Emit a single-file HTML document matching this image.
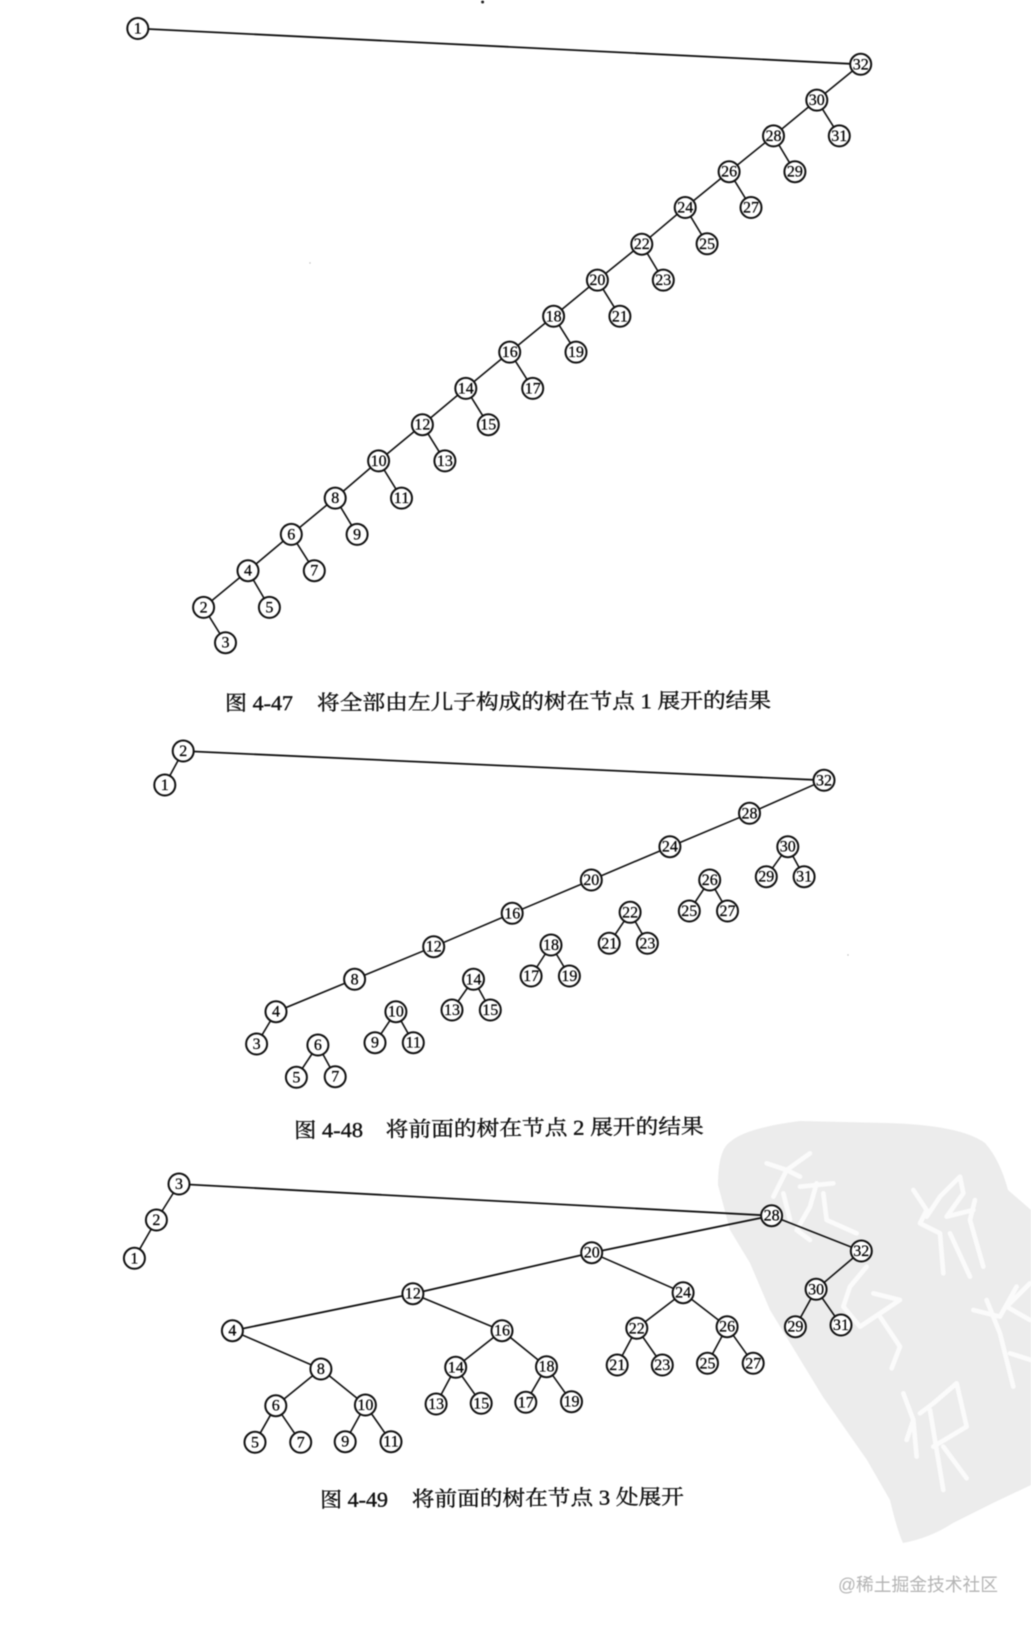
<!DOCTYPE html>
<html lang="zh"><head><meta charset="utf-8"><title>图 4-47 4-48 4-49</title>
<style>
html,body{margin:0;padding:0;background:#fff;width:1031px;height:1627px;overflow:hidden}
svg{display:block;filter:blur(.5px)}
.e{fill:none;stroke:#111;stroke-width:1.6}
.t{fill:none;stroke:#111;stroke-width:1.8}
.n circle{fill:#fff;stroke:#111;stroke-width:2}
.n text{font:16px "Liberation Serif",serif;text-anchor:middle;fill:#000;stroke:#000;stroke-width:.25}
.c text{font:21px "Liberation Serif","Noto Serif CJK SC",serif;fill:#111;stroke:#111;stroke-width:.4}
.w{fill:none;stroke:#fbfbfb;stroke-width:14;stroke-linecap:round;stroke-linejoin:round}
</style></head><body>
<svg xmlns="http://www.w3.org/2000/svg" width="1031" height="1627" viewBox="0 0 1031 1627">
<rect width="1031" height="1627" fill="#fff"/>
<circle cx="482.6" cy="2" r="1.5" fill="#222"/>
<circle cx="310" cy="263" r=".7" fill="#bbb"/>
<circle cx="848" cy="955" r=".7" fill="#bbb"/>
<path fill="#ececec" d="M718 1185Q718 1150 730 1142Q745 1128 800 1121L887 1123Q960 1125 985 1143Q1000 1160 1008 1190L1031 1210L1031 1485L993 1503L953 1523Q930 1538 903 1543Q897 1530 890 1500L867 1460L823 1397L770 1310L750 1263L730 1230Z"/>
<g class="w" transform="translate(700 1120) scale(.3333)">
<path d="M200 130L260 150 300 170M330 100L260 150 220 230M300 200L400 190M350 190L330 260 290 330 330 360M370 220L380 300 470 340M250 220L270 300"/>
<path d="M640 210L680 270 660 310 720 340 730 460M780 170L720 230 680 290M780 170L790 220 740 290 820 270M825 240L810 300 850 440M750 340L810 470"/>
<path d="M500 440L450 500 430 560 480 620M520 520L600 540 480 620M540 590L600 680 575 745"/>
<path d="M820 570L900 590 950 500M860 540L900 640M990 490L920 560 990 600M900 640L940 800M930 700L993 720"/>
<path d="M610 820L640 900 620 960M640 900L650 1010M770 790L700 850 660 880M770 790L800 920 700 980M690 870L730 1110M730 980L800 1075"/>
</g>

<path class="t" d="M137.8 28.5L860.7 64.3"/>
<path class="e" d="M860.7 64.3L816.8 100.1 773.5 135.9 729.1 171.7 685.2 207.5 641.8 244.2 597.4 280.1 553.6 316.3 509.7 352.1 465.8 388.4 422.4 424.7 378.6 460.9 335.2 498.1 291.3 534.4 248 570.7 203.6 607.4 225.5 642.7M816.8 100.1L839.3 135.9M773.5 135.9L794.9 171.7M729.1 171.7L751 207.5M685.2 207.5L707.1 243.8M641.8 244.2L663.3 280.1M597.4 280.1L619.9 316.3M553.6 316.3L576 352.1M509.7 352.1L532.7 388.4M465.8 388.4L488.3 424.7M422.4 424.7L444.9 460.9M378.6 460.9L401.5 498.1M335.2 498.1L357.1 534.4M291.3 534.4L314.3 570.7M248 570.7L269.4 607.4"/>
<g class="n">
<circle cx="137.8" cy="28.5" r="10.5"/><text x="137.8" y="33.5">1</text>
<circle cx="860.7" cy="64.3" r="10.5"/><text x="860.7" y="69.3">32</text>
<circle cx="816.8" cy="100.1" r="10.5"/><text x="816.8" y="105.1">30</text>
<circle cx="773.5" cy="135.9" r="10.5"/><text x="773.5" y="140.9">28</text>
<circle cx="729.1" cy="171.7" r="10.5"/><text x="729.1" y="176.7">26</text>
<circle cx="685.2" cy="207.5" r="10.5"/><text x="685.2" y="212.5">24</text>
<circle cx="641.8" cy="244.2" r="10.5"/><text x="641.8" y="249.2">22</text>
<circle cx="597.4" cy="280.1" r="10.5"/><text x="597.4" y="285.1">20</text>
<circle cx="553.6" cy="316.3" r="10.5"/><text x="553.6" y="321.3">18</text>
<circle cx="509.7" cy="352.1" r="10.5"/><text x="509.7" y="357.1">16</text>
<circle cx="465.8" cy="388.4" r="10.5"/><text x="465.8" y="393.4">14</text>
<circle cx="422.4" cy="424.7" r="10.5"/><text x="422.4" y="429.7">12</text>
<circle cx="378.6" cy="460.9" r="10.5"/><text x="378.6" y="465.9">10</text>
<circle cx="335.2" cy="498.1" r="10.5"/><text x="335.2" y="503.1">8</text>
<circle cx="291.3" cy="534.4" r="10.5"/><text x="291.3" y="539.4">6</text>
<circle cx="248" cy="570.7" r="10.5"/><text x="248" y="575.7">4</text>
<circle cx="203.6" cy="607.4" r="10.5"/><text x="203.6" y="612.4">2</text>
<circle cx="225.5" cy="642.7" r="10.5"/><text x="225.5" y="647.7">3</text>
<circle cx="839.3" cy="135.9" r="10.5"/><text x="839.3" y="140.9">31</text>
<circle cx="794.9" cy="171.7" r="10.5"/><text x="794.9" y="176.7">29</text>
<circle cx="751" cy="207.5" r="10.5"/><text x="751" y="212.5">27</text>
<circle cx="707.1" cy="243.8" r="10.5"/><text x="707.1" y="248.8">25</text>
<circle cx="663.3" cy="280.1" r="10.5"/><text x="663.3" y="285.1">23</text>
<circle cx="619.9" cy="316.3" r="10.5"/><text x="619.9" y="321.3">21</text>
<circle cx="576" cy="352.1" r="10.5"/><text x="576" y="357.1">19</text>
<circle cx="532.7" cy="388.4" r="10.5"/><text x="532.7" y="393.4">17</text>
<circle cx="488.3" cy="424.7" r="10.5"/><text x="488.3" y="429.7">15</text>
<circle cx="444.9" cy="460.9" r="10.5"/><text x="444.9" y="465.9">13</text>
<circle cx="401.5" cy="498.1" r="10.5"/><text x="401.5" y="503.1">11</text>
<circle cx="357.1" cy="534.4" r="10.5"/><text x="357.1" y="539.4">9</text>
<circle cx="314.3" cy="570.7" r="10.5"/><text x="314.3" y="575.7">7</text>
<circle cx="269.4" cy="607.4" r="10.5"/><text x="269.4" y="612.4">5</text>
</g>
<g class="c" transform="rotate(-.3 497 700)">
<text x="225" y="709" textLength="68" lengthAdjust="spacingAndGlyphs">图 4-47</text>
<text x="317" y="709" textLength="454" lengthAdjust="spacingAndGlyphs">将全部由左儿子构成的树在节点 1 展开的结果</text>
</g>

<path class="t" d="M183.2 751L824 780.3"/>
<path class="e" d="M183.2 751L164.8 785M824 780.3L749.5 813.3 669.9 846.7 591.3 880 512.2 913.3 433.7 946.7 354.6 979.3 276 1011.7 256.6 1044M317.9 1045L296.4 1077.3M317.9 1045L335.2 1076.7M395.9 1011.7L375 1042.7M395.9 1011.7L413.3 1042.7M473.5 979.3L452 1010M473.5 979.3L490.3 1010M551 945L531.1 976M551 945L569.4 976M630.1 912.3L609.2 943.3M630.1 912.3L647.4 943.3M709.7 880L689.3 911M709.7 880L727.5 911M787.8 846.7L766.3 876.7M787.8 846.7L804.1 876.7"/>
<g class="n">
<circle cx="183.2" cy="751" r="10.5"/><text x="183.2" y="756">2</text>
<circle cx="164.8" cy="785" r="10.5"/><text x="164.8" y="790">1</text>
<circle cx="824" cy="780.3" r="10.5"/><text x="824" y="785.3">32</text>
<circle cx="749.5" cy="813.3" r="10.5"/><text x="749.5" y="818.3">28</text>
<circle cx="669.9" cy="846.7" r="10.5"/><text x="669.9" y="851.7">24</text>
<circle cx="591.3" cy="880" r="10.5"/><text x="591.3" y="885">20</text>
<circle cx="512.2" cy="913.3" r="10.5"/><text x="512.2" y="918.3">16</text>
<circle cx="433.7" cy="946.7" r="10.5"/><text x="433.7" y="951.7">12</text>
<circle cx="354.6" cy="979.3" r="10.5"/><text x="354.6" y="984.3">8</text>
<circle cx="276" cy="1011.7" r="10.5"/><text x="276" y="1016.7">4</text>
<circle cx="256.6" cy="1044" r="10.5"/><text x="256.6" y="1049">3</text>
<circle cx="317.9" cy="1045" r="10.5"/><text x="317.9" y="1050">6</text>
<circle cx="296.4" cy="1077.3" r="10.5"/><text x="296.4" y="1082.3">5</text>
<circle cx="335.2" cy="1076.7" r="10.5"/><text x="335.2" y="1081.7">7</text>
<circle cx="395.9" cy="1011.7" r="10.5"/><text x="395.9" y="1016.7">10</text>
<circle cx="375" cy="1042.7" r="10.5"/><text x="375" y="1047.7">9</text>
<circle cx="413.3" cy="1042.7" r="10.5"/><text x="413.3" y="1047.7">11</text>
<circle cx="473.5" cy="979.3" r="10.5"/><text x="473.5" y="984.3">14</text>
<circle cx="452" cy="1010" r="10.5"/><text x="452" y="1015">13</text>
<circle cx="490.3" cy="1010" r="10.5"/><text x="490.3" y="1015">15</text>
<circle cx="551" cy="945" r="10.5"/><text x="551" y="950">18</text>
<circle cx="531.1" cy="976" r="10.5"/><text x="531.1" y="981">17</text>
<circle cx="569.4" cy="976" r="10.5"/><text x="569.4" y="981">19</text>
<circle cx="630.1" cy="912.3" r="10.5"/><text x="630.1" y="917.3">22</text>
<circle cx="609.2" cy="943.3" r="10.5"/><text x="609.2" y="948.3">21</text>
<circle cx="647.4" cy="943.3" r="10.5"/><text x="647.4" y="948.3">23</text>
<circle cx="709.7" cy="880" r="10.5"/><text x="709.7" y="885">26</text>
<circle cx="689.3" cy="911" r="10.5"/><text x="689.3" y="916">25</text>
<circle cx="727.5" cy="911" r="10.5"/><text x="727.5" y="916">27</text>
<circle cx="787.8" cy="846.7" r="10.5"/><text x="787.8" y="851.7">30</text>
<circle cx="766.3" cy="876.7" r="10.5"/><text x="766.3" y="881.7">29</text>
<circle cx="804.1" cy="876.7" r="10.5"/><text x="804.1" y="881.7">31</text>
</g>
<g class="c" transform="rotate(-.6 498 1128)">
<text x="294" y="1135.500" textLength="69" lengthAdjust="spacingAndGlyphs">图 4-48</text>
<text x="385.7" y="1135.500" textLength="318" lengthAdjust="spacingAndGlyphs">将前面的树在节点 2 展开的结果</text>
</g>

<path class="t" d="M179 1184L771.6 1215.7M771.6 1215.7L591.7 1252.7 412.9 1293.7 232.4 1330.7"/>
<path class="e" d="M179 1184L156.4 1220 134.4 1258.3M232.4 1330.7L320.9 1369M320.9 1369L275.8 1405.7M320.9 1369L365.4 1405M275.8 1405.7L255 1442.3M275.8 1405.7L300.7 1442.3M365.4 1405L345.2 1441.7M365.4 1405L391 1441.7M412.9 1293.7L502 1330.7M502 1330.7L455.7 1367.3M502 1330.7L546.5 1366.7M455.7 1367.3L436.1 1404M455.7 1367.3L481.2 1403.3M546.5 1366.7L525.8 1402.3M546.5 1366.7L571.5 1401.7M591.7 1252.7L683.1 1292.7M683.1 1292.7L636.8 1328.3M683.1 1292.7L727.1 1326.7M636.8 1328.3L617.2 1365M636.8 1328.3L662.3 1365M727.1 1326.7L707.5 1363.3M727.1 1326.7L753.2 1363.3M771.6 1215.7L861.3 1251M861.3 1251L816.1 1289.3M816.1 1289.3L795.4 1326.7M816.1 1289.3L841 1325"/>
<g class="n">
<circle cx="179" cy="1184" r="10.5"/><text x="179" y="1189">3</text>
<circle cx="156.4" cy="1220" r="10.5"/><text x="156.4" y="1225">2</text>
<circle cx="134.4" cy="1258.3" r="10.5"/><text x="134.4" y="1263.3">1</text>
<circle cx="771.6" cy="1215.7" r="10.5"/><text x="771.6" y="1220.7">28</text>
<circle cx="591.7" cy="1252.7" r="10.5"/><text x="591.7" y="1257.7">20</text>
<circle cx="861.3" cy="1251" r="10.5"/><text x="861.3" y="1256">32</text>
<circle cx="412.9" cy="1293.7" r="10.5"/><text x="412.9" y="1298.7">12</text>
<circle cx="683.1" cy="1292.7" r="10.5"/><text x="683.1" y="1297.7">24</text>
<circle cx="816.1" cy="1289.3" r="10.5"/><text x="816.1" y="1294.3">30</text>
<circle cx="795.4" cy="1326.7" r="10.5"/><text x="795.4" y="1331.7">29</text>
<circle cx="841" cy="1325" r="10.5"/><text x="841" y="1330">31</text>
<circle cx="232.4" cy="1330.7" r="10.5"/><text x="232.4" y="1335.7">4</text>
<circle cx="502" cy="1330.7" r="10.5"/><text x="502" y="1335.7">16</text>
<circle cx="636.8" cy="1328.3" r="10.5"/><text x="636.8" y="1333.3">22</text>
<circle cx="727.1" cy="1326.7" r="10.5"/><text x="727.1" y="1331.7">26</text>
<circle cx="320.9" cy="1369" r="10.5"/><text x="320.9" y="1374">8</text>
<circle cx="455.7" cy="1367.3" r="10.5"/><text x="455.7" y="1372.3">14</text>
<circle cx="546.5" cy="1366.7" r="10.5"/><text x="546.5" y="1371.7">18</text>
<circle cx="617.2" cy="1365" r="10.5"/><text x="617.2" y="1370">21</text>
<circle cx="662.3" cy="1365" r="10.5"/><text x="662.3" y="1370">23</text>
<circle cx="707.5" cy="1363.3" r="10.5"/><text x="707.5" y="1368.3">25</text>
<circle cx="753.2" cy="1363.3" r="10.5"/><text x="753.2" y="1368.3">27</text>
<circle cx="275.8" cy="1405.7" r="10.5"/><text x="275.8" y="1410.7">6</text>
<circle cx="365.4" cy="1405" r="10.5"/><text x="365.4" y="1410">10</text>
<circle cx="436.1" cy="1404" r="10.5"/><text x="436.1" y="1409">13</text>
<circle cx="481.2" cy="1403.3" r="10.5"/><text x="481.2" y="1408.3">15</text>
<circle cx="525.8" cy="1402.3" r="10.5"/><text x="525.8" y="1407.3">17</text>
<circle cx="571.5" cy="1401.7" r="10.5"/><text x="571.5" y="1406.7">19</text>
<circle cx="255" cy="1442.3" r="10.5"/><text x="255" y="1447.3">5</text>
<circle cx="300.7" cy="1442.3" r="10.5"/><text x="300.7" y="1447.3">7</text>
<circle cx="345.2" cy="1441.7" r="10.5"/><text x="345.2" y="1446.7">9</text>
<circle cx="391" cy="1441.7" r="10.5"/><text x="391" y="1446.7">11</text>
</g>
<g class="c" transform="rotate(-.5 500 1498)">
<text x="320" y="1505.500" textLength="68" lengthAdjust="spacingAndGlyphs">图 4-49</text>
<text x="411.8" y="1505.500" textLength="272" lengthAdjust="spacingAndGlyphs">将前面的树在节点 3 处展开</text>
</g>
<text x="838" y="1591" textLength="160" lengthAdjust="spacingAndGlyphs" style="font:18px 'Liberation Sans','Noto Sans CJK SC',sans-serif;fill:#b4b4b4">@稀土掘金技术社区</text>
</svg>
</body></html>
